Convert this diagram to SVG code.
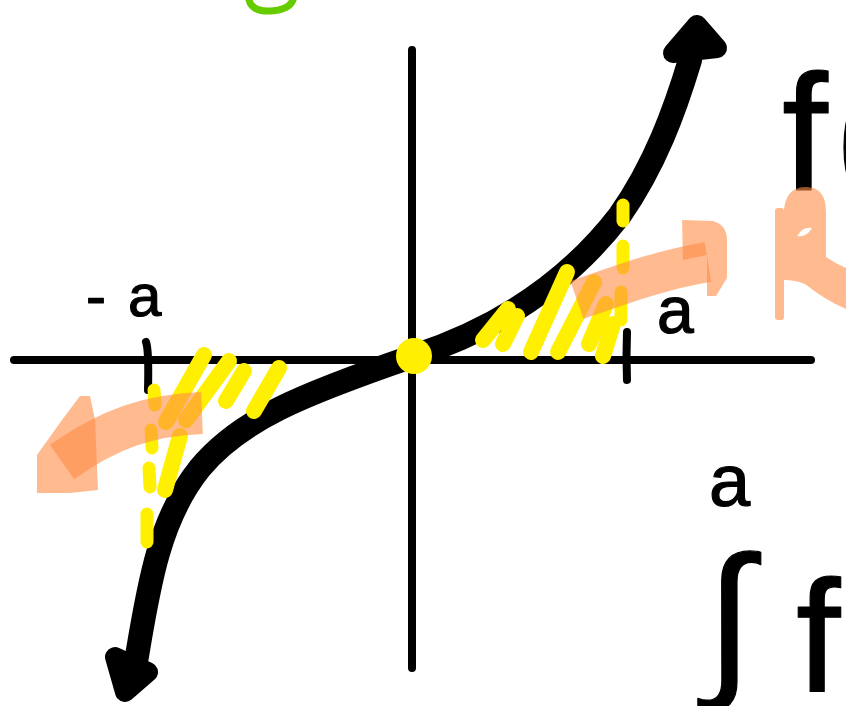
<svg xmlns="http://www.w3.org/2000/svg" width="846" height="706" viewBox="0 0 846 706">
<style>
.ax{stroke:#000;stroke-width:8;stroke-linecap:round;fill:none}
.crv{stroke:#000;stroke-width:24;stroke-linecap:round;fill:none}
.head{fill:#000;stroke:#000;stroke-width:20;stroke-linejoin:round}
.yl{stroke:#FFEF00;stroke-linecap:round;fill:none}
.or{fill:rgb(255,140,70);opacity:0.6}
.orb{stroke:rgb(255,140,70);opacity:0.6;fill:none}
.lbl{font-family:"Liberation Sans","DejaVu Sans",sans-serif;fill:#000;stroke:#000;stroke-width:1.2;stroke-linejoin:round}
</style>
<rect width="846" height="706" fill="#fff"/>
<g id="green-mark"><path d="M249,0 Q252,12 271,11 Q289,10 293,0" stroke="#66CC00" stroke-width="7" fill="none" stroke-linecap="round"/></g>
<g id="labels">
<text class="lbl" x="86" y="316" font-size="60">-<tspan dx="22">a</tspan></text>
<text class="lbl" x="657" y="333" font-size="66">a</text>
<text class="lbl" x="709" y="506" font-size="74">a</text>
<text class="lbl" x="782" y="190" font-size="165">f<tspan dx="6">(</tspan></text>
<text class="lbl" x="706" y="676" font-size="170">∫</text>
<text class="lbl" x="796" y="692" font-size="160">f</text>
</g>
<g id="axes">
<line class="ax" x1="14" y1="360" x2="811" y2="360"/>
<line class="ax" x1="412" y1="50" x2="412" y2="668"/>
<path class="ax" d="M146,342 Q149,350 148,390"/>
<path class="ax" d="M627,332 Q626,356 627,380"/>
</g>
<g id="connectors">
<path class="crv" d="M136,662 C148,590 158,520 200,468 C240,420 300,395 414,356 C500,328 570,280 620,215 C655,165 675,110 690,60"/>
<polygon class="head" points="697,25 673,53 717,48"/>
<polygon class="head" points="115,657 148,672 125,692"/>
</g>
<g id="yellow-hatching">
<g class="yl" stroke-width="16">
<line x1="204" y1="355" x2="166" y2="422"/>
<line x1="229" y1="361" x2="186" y2="420"/>
<line x1="244" y1="371" x2="226" y2="401"/>
<line x1="279" y1="368" x2="254" y2="411"/>
<line x1="180" y1="436" x2="165" y2="490"/>
<line x1="508" y1="309" x2="483" y2="340"/>
<line x1="517" y1="316" x2="503" y2="344"/>
<line x1="567" y1="272" x2="531" y2="352"/>
<line x1="594" y1="282" x2="558" y2="352"/>
<line x1="606" y1="304" x2="589" y2="344"/>
<line x1="613" y1="324" x2="603" y2="356"/>
</g>
<g class="yl" stroke-width="13">
<line x1="154" y1="390" x2="155" y2="405"/>
<line x1="151" y1="430" x2="152" y2="448"/>
<line x1="149" y1="468" x2="150" y2="487"/>
<line x1="147" y1="514" x2="147" y2="542"/>
<line x1="623" y1="205" x2="623" y2="221"/>
<line x1="623" y1="246" x2="623" y2="268"/>
<line x1="621" y1="292" x2="621" y2="320"/>
</g>
</g>
<g id="origin"><circle cx="414" cy="356" r="18" fill="#FFEF00"/></g>
<g id="orange-left">
<path class="orb" stroke-width="42" d="M202,413 C150,415 110,428 62,462"/>
<path class="or" d="M37,455 L62,420 L80,396 L90,396 L95,420 L98,490 L70,493 L37,493 Z"/>
</g>
<g id="orange-right">
<path class="orb" stroke-width="40" d="M577,300 C620,285 660,270 708,262"/>
<path class="or" d="M682,220 L713,221 Q727,225 727,240 L727,278 L716,296 L707,296 L707,255 L683,260 Z"/>
<rect class="or" x="775" y="208" width="9" height="112" rx="3"/>
<path class="or" d="M784,280 L784,210 Q786,187 806,187 Q826,187 826,212 L826,257 Q836,264 846,268 L846,309 Q825,300 805,284 Q795,280 784,280 Z M797,236 Q803,226 812,228 Q806,238 797,236 Z" fill-rule="evenodd"/>
</g>
</svg>
